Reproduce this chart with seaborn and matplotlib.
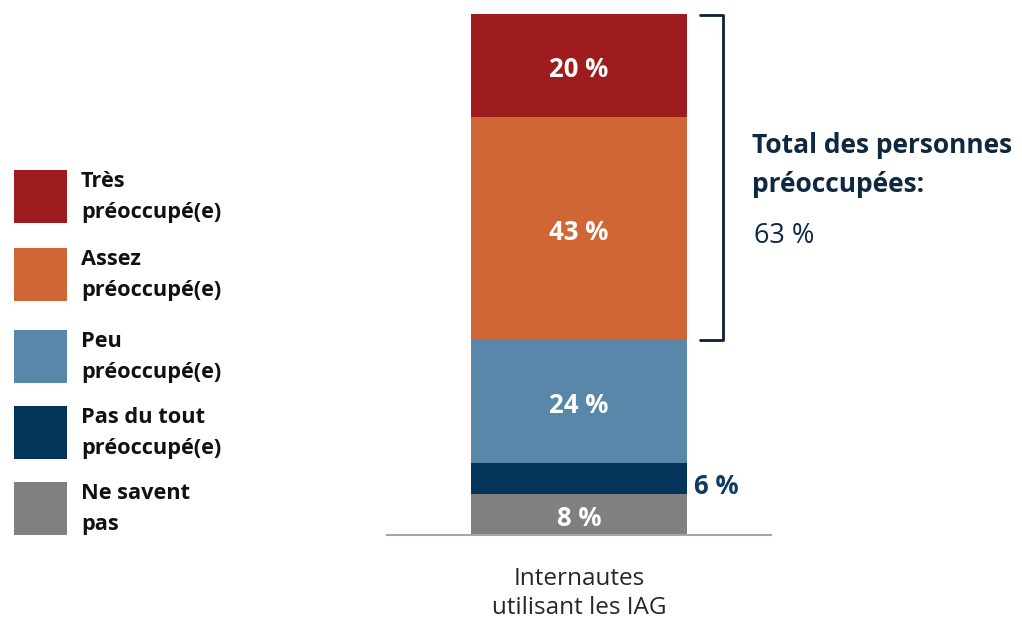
import pandas
import numpy
import seaborn as sns
import matplotlib.pyplot as plt
from matplotlib.patches import Rectangle
#------------------------------

#data
categories = ["Très\npréoccupé(e)", "Assez\npréoccupé(e)", "Peu\npréoccupé(e)",
              "Pas du tout\npréoccupé(e)", "Ne savent\npas"]
values = [20, 43, 24, 6, 8]
colors = ["#9e1b1e", "#d06635", "#5887aa", "#03355b", "#808080"]
group_name = "Internautes\nutilisant les IAG"
total_label = "Total des personnes\npréoccupées:"
total_value = "63 %"

sns.set_theme(style="white")
plt.rcParams["font.family"] = ["Open Sans", "DejaVu Sans"]

fig = plt.figure(figsize=(10.22, 6.22), dpi=100)
ax = fig.add_axes([387 / 1022, 87 / 622, 384 / 1022, 521 / 622])

#cumulative from bottom (last item) to top (first item)
bottoms = numpy.cumsum(values[::-1])[::-1] - numpy.array(values)
tops = bottoms + numpy.array(values)

#draw tallest first so each smaller stack sits on top
for i in range(len(values)):
    df = pandas.DataFrame({"group": [group_name], "cum": [tops[i]]})
    sns.barplot(data=df, x="group", y="cum", color=colors[i], width=0.56,
                saturation=1, ax=ax, linewidth=0)

#labels
for i, v in enumerate(values):
    mid = bottoms[i] + v / 2
    if v < 7:
        ax.annotate(f"{v} %", (0.3, mid), xytext=(0, -4), textcoords="offset points",
                    ha="left", va="center_baseline", color="#0e3a5f",
                    fontsize=18.5, fontweight="bold")
    else:
        ax.annotate(f"{v} %", (0, mid), xytext=(0, -1), textcoords="offset points",
                    ha="center", va="center_baseline", color="white",
                    fontsize=18.5, fontweight="bold")

ax.set_xlim(-0.5, 0.5)
ax.set_ylim(0, tops[0])
ax.set_xlabel("")
ax.set_ylabel("")
ax.set_yticks([])
for s in ["top", "left", "right"]:
    ax.spines[s].set_visible(False)
ax.spines["bottom"].set_color("#a6a6a6")
ax.spines["bottom"].set_linewidth(1.5)
ax.tick_params(axis="x", length=0, pad=23)
for t in ax.get_xticklabels():
    t.set_fontsize(17.5)
    t.set_color("#262626")
    t.set_linespacing(1.28)

#bracket
bx = 723 / 1022
y_top = 1 - 15 / 622
y_bot = 1 - 340 / 622
x0 = 700 / 1022
fig.lines.append(plt.Line2D([x0, bx, bx, x0], [y_top, y_top, y_bot, y_bot],
                            transform=fig.transFigure, color="#0e2036", linewidth=2))
fig.text(752 / 1022, 1 - 165 / 622, total_label, ha="left", va="center",
         fontsize=19, fontweight="bold", color="#0e2841", linespacing=1.6)
fig.text(754 / 1022, 1 - 236 / 622, total_value, ha="left", va="center",
         fontsize=19.5, color="#0e2841")

#legend
sq_tops = [170, 248, 330, 406, 482]
for i, name in enumerate(categories):
    top = sq_tops[i]
    fig.patches.append(Rectangle((14 / 1022, 1 - (top + 53) / 622), 53 / 1022, 53 / 622,
                                 transform=fig.transFigure, facecolor=colors[i],
                                 edgecolor="none"))
    fig.text(81 / 1022, 1 - (top + 27) / 622, name, ha="left", va="center",
             fontsize=15.7, fontweight="bold", color="#111111", linespacing=1.6)

fig.savefig("out.png", dpi=100)
